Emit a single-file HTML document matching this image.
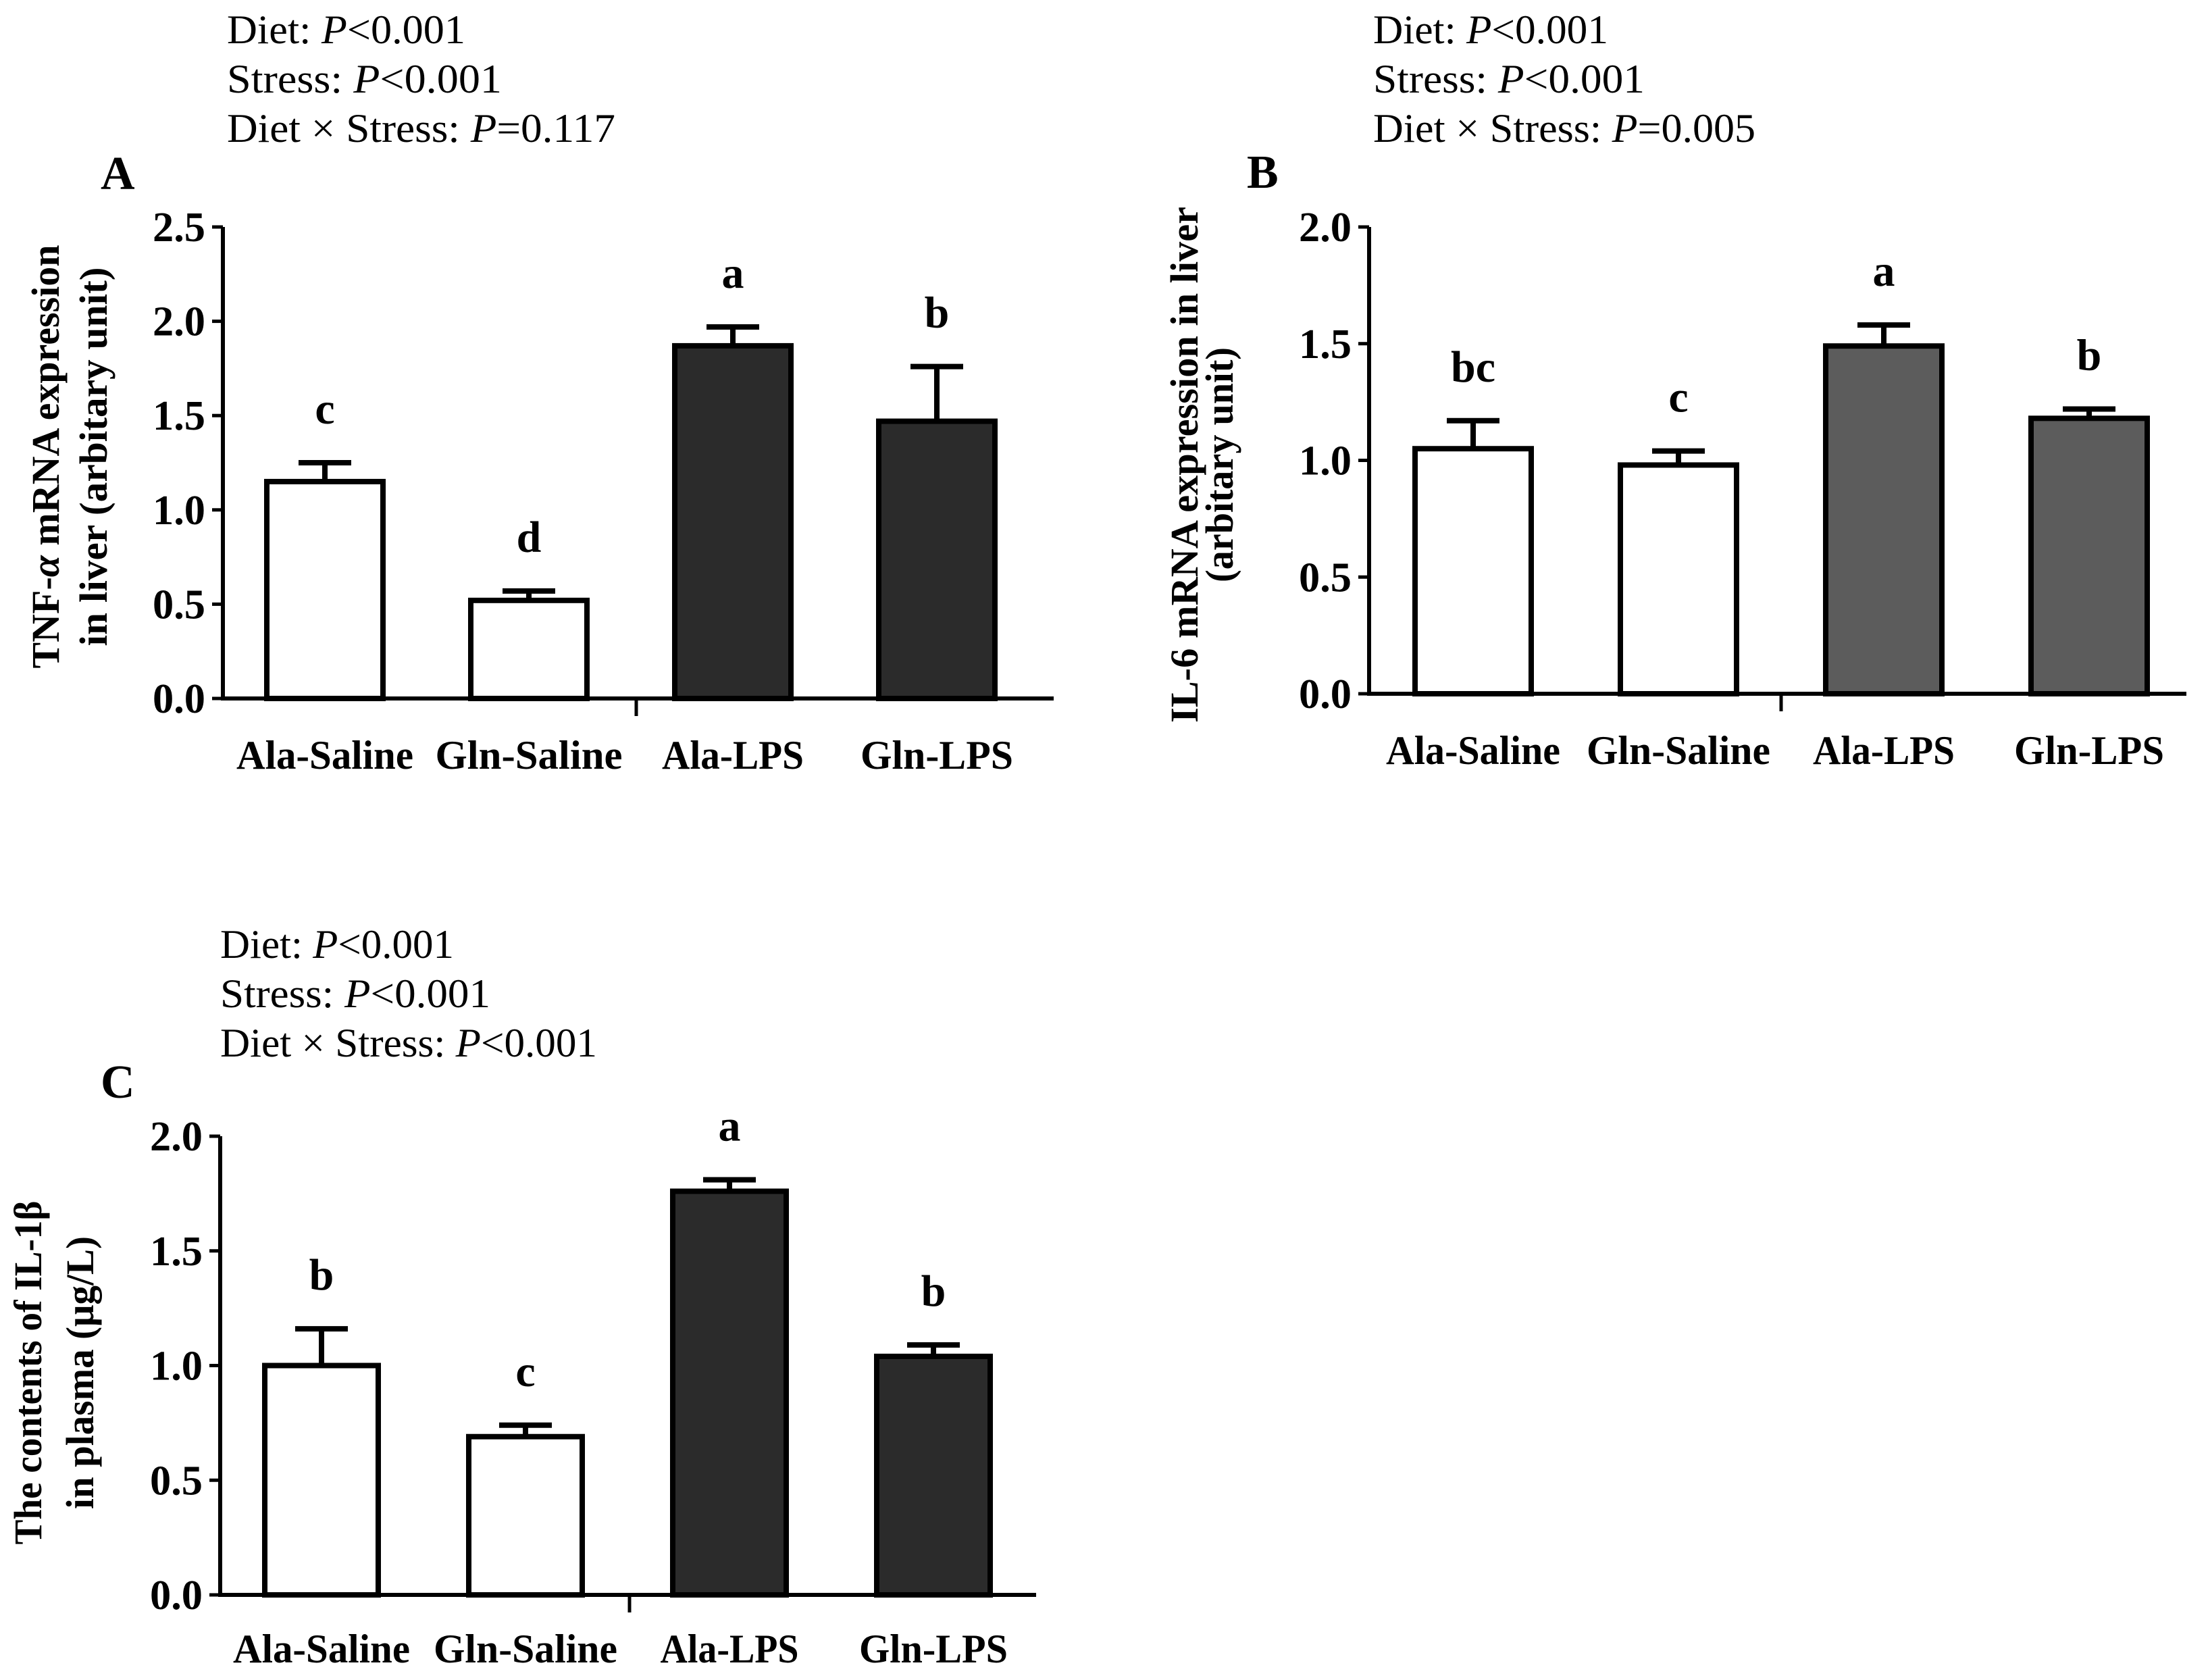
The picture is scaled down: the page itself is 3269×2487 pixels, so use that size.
<!DOCTYPE html>
<html><head><meta charset="utf-8"><style>
html,body{margin:0;padding:0;background:#fff;overflow:hidden;}
svg{display:block;font-family:"Liberation Serif",serif;}
</style></head><body>
<svg id="fig" width="3269" height="2487" viewBox="0 0 3269 2487" xmlns="http://www.w3.org/2000/svg"></svg>
<script>
const categories = ["Ala-Saline","Gln-Saline","Ala-LPS","Gln-LPS"];
const tnfValues = [1.15, 0.52, 1.87, 1.47];
const tnfErrors = [1.25, 0.57, 1.97, 1.76];
const tnfLetters = ["c","d","a","b"];
const tnfTicks = ["0.0","0.5","1.0","1.5","2.0","2.5"];
const il6Values = [1.05, 0.98, 1.49, 1.18];
const il6Errors = [1.17, 1.04, 1.58, 1.22];
const il6Letters = ["bc","c","a","b"];
const il6Ticks = ["0.0","0.5","1.0","1.5","2.0"];
const il1Values = [1.00, 0.69, 1.76, 1.04];
const il1Errors = [1.16, 0.74, 1.81, 1.09];
const il1Letters = ["b","c","a","b"];
const il1Ticks = ["0.0","0.5","1.0","1.5","2.0"];

const NS="http://www.w3.org/2000/svg";
const svg=document.getElementById('fig');
function mk(tag,attrs,parent){const e=document.createElementNS(NS,tag);for(const k in attrs)e.setAttribute(k,attrs[k]);(parent||svg).appendChild(e);return e;}
function txt(parent,x,y,s,size,weight,anchor,len,extra){
  const t=mk('text',Object.assign({x:x,y:y,'font-size':size,'font-weight':weight,'text-anchor':anchor||'start'},extra||{}),parent);
  if(len){t.setAttribute('textLength',len);t.setAttribute('lengthAdjust','spacingAndGlyphs');}
  t.textContent=s;return t;}

const panels=[
 {id:'a',label:'A',lx:149,ly:280,vals:tnfValues,errs:tnfErrors,letters:tnfLetters,ticks:tnfTicks,ymax:2.5,
  ax:330,y0:1034,ytop:336,axEnd:1560,midTick:942,x0:481,step:302,bw:172,fill:'#2b2b2b',
  statsX:336,statsY:[64,137,210],statsTxt:[["Diet: ","P","<0.001",353],["Stress: ","P","<0.001",407],["Diet × Stress: ","P","=0.117",575]],
  titleX:[67,138],titleY:676,titles:[["TNF-","α"," mRNA expression",627],["in liver (arbitary unit)",null,null,561]],
  xlY:1138,xlLens:[262,277,210,226]},
 {id:'b',label:'B',lx:1846,ly:278,vals:il6Values,errs:il6Errors,letters:il6Letters,ticks:il6Ticks,ymax:2.0,
  ax:2027,y0:1027,ytop:336,axEnd:3237,midTick:2637,x0:2181,step:304,bw:172,fill:'#5c5c5c',
  statsX:2033,statsY:[64,137,210],statsTxt:[["Diet: ","P","<0.001",348],["Stress: ","P","<0.001",402],["Diet × Stress: ","P","=0.005",566]],
  titleX:[1753,1805],titleY:688,titles:[["IL-6 mRNA expression in liver",null,null,764],["(arbitary unit)",null,null,348]],
  xlY:1131,xlLens:[258,272,210,222]},
 {id:'c',label:'C',lx:149,ly:1625,vals:il1Values,errs:il1Errors,letters:il1Letters,ticks:il1Ticks,ymax:2.0,
  ax:326,y0:2361,ytop:1682,axEnd:1534,midTick:932,x0:476,step:302,bw:168,fill:'#2b2b2b',
  statsX:326,statsY:[1418,1491,1564],statsTxt:[["Diet: ","P","<0.001",346],["Stress: ","P","<0.001",400],["Diet × Stress: ","P","<0.001",558]],
  titleX:[41,118],titleY:2032,titles:[["The contents of IL-1β",null,null,509],["in plasma (μg/L)",null,null,404]],
  xlY:2461,xlLens:[262,272,205,220]}
];

panels.forEach(p=>{
  const g=mk('g',{});
  
  
  const yS=v=>p.y0-(v/p.ymax)*(p.y0-p.ytop);
  const xS=i=>p.x0+i*p.step;
  p.statsTxt.forEach((s,k)=>{
    const t=txt(g,p.statsX,p.statsY[k],'',60,'normal','start',s[3]);
    
    
    const a=mk('tspan',{},t);a.textContent=s[0];
    const b=mk('tspan',{'font-style':'italic'},t);b.textContent=s[1];
    const c=mk('tspan',{},t);c.textContent=s[2];
  });
  const pl=txt(g,p.lx,p.ly,p.label,70,'bold','start');
  
  
  p.titles.forEach((s,k)=>{
    const t=txt(g,0,0,'',58,'bold','middle',s[3],{transform:'translate('+(p.titleX[k]+20)+','+p.titleY+') rotate(-90)'});
    
    
    const a=mk('tspan',{},t);a.textContent=s[0];
    if(s[1]){const b=mk('tspan',{'font-style':'italic'},t);b.textContent=s[1];const c=mk('tspan',{},t);c.textContent=s[2];}
  });
  p.vals.forEach((v,i)=>{
    const cx=xS(i);
    const eb=mk('line',{x1:cx,x2:cx,y1:yS(v),y2:yS(p.errs[i]),stroke:'#000','stroke-width':8},g);
    
    
    const cap=mk('line',{x1:cx-39,x2:cx+39,y1:yS(p.errs[i]),y2:yS(p.errs[i]),stroke:'#000','stroke-width':8},g);
    
    
    const r=mk('rect',{x:cx-p.bw/2,y:yS(v),width:p.bw,height:p.y0-yS(v),fill:i<2?'#fff':p.fill,stroke:'#000','stroke-width':8},g);
    
    
    const lt=txt(g,cx,yS(p.errs[i])-58,p.letters[i],66,'bold','middle');
    
    
    const xl=txt(g,cx,p.xlY,categories[i],60,'bold','middle',p.xlLens[i]);
    
    
  });
  const ya=mk('line',{x1:p.ax,x2:p.ax,y1:p.ytop,y2:p.y0+3,stroke:'#000','stroke-width':6},g);
  
  
  const xa=mk('line',{x1:p.ax-3,x2:p.axEnd,y1:p.y0,y2:p.y0,stroke:'#000','stroke-width':6},g);
  
  
  const mt=mk('line',{x1:p.midTick,x2:p.midTick,y1:p.y0,y2:p.y0+26,stroke:'#000','stroke-width':5},g);
  
  
  p.ticks.forEach(tk=>{
    const v=parseFloat(tk);
    const tl=mk('line',{x1:p.ax-16,x2:p.ax,y1:yS(v),y2:yS(v),stroke:'#000','stroke-width':5},g);
    
    
    const tt=txt(g,p.ax-26,yS(v)+21,tk,62,'bold','end',78);
    
    
  });
});
</script>
</body></html>
